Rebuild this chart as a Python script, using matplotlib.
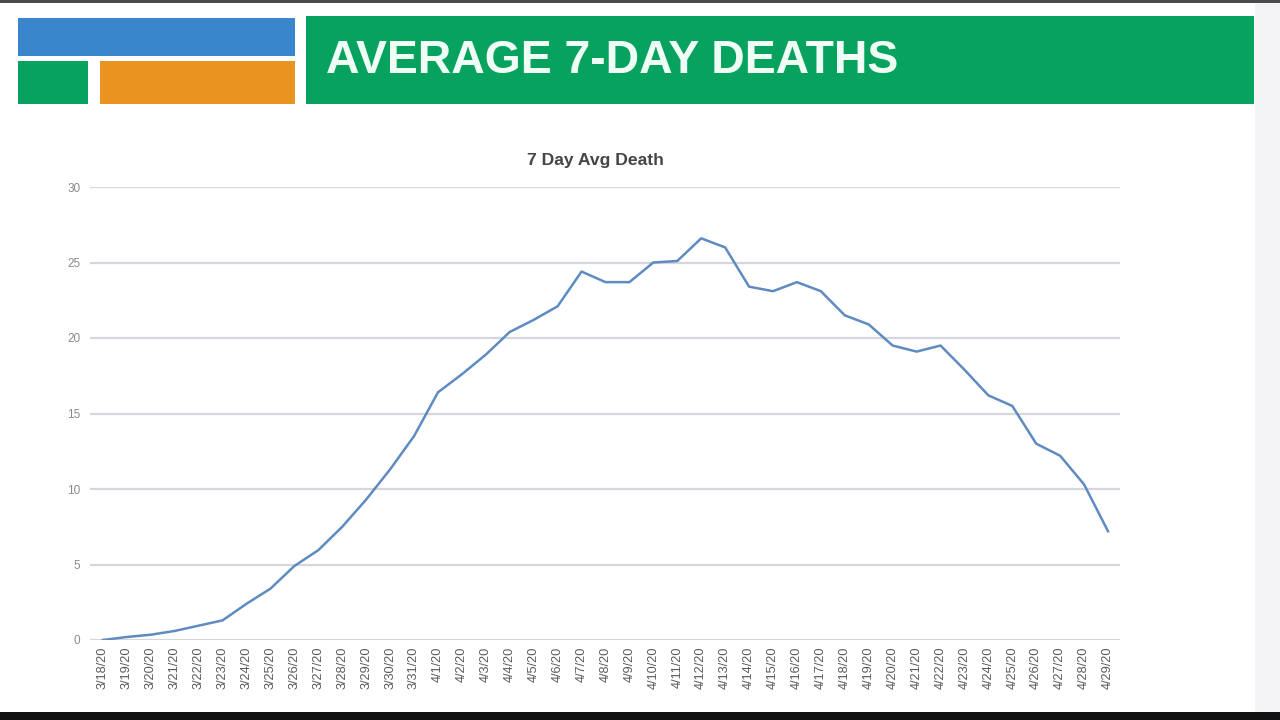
import matplotlib
matplotlib.use("Agg")
from matplotlib import pyplot as plt
from matplotlib.patches import Rectangle

# dates 3/18/20 .. 4/29/20
dates = ["3/%d/20" % d for d in range(18, 32)] + ["4/%d/20" % d for d in range(1, 30)]
avg_deaths = [0.0, 0.2, 0.35, 0.6, 0.95, 1.3, 2.4, 3.4, 4.9, 5.95,
              7.5, 9.3, 11.3, 13.5, 16.4, 17.6, 18.9, 20.4, 21.2, 22.1,
              24.4, 23.7, 23.7, 25.0, 25.1, 26.6, 26.0, 23.4, 23.1, 23.7,
              23.1, 21.5, 20.9, 19.5, 19.1, 19.5, 17.9, 16.2, 15.5, 13.0,
              12.2, 10.3, 7.2]
y_ticks = [0, 5, 10, 15, 20, 25, 30]

W, H = 1280, 720
fig = plt.figure(figsize=(12.8, 7.2), dpi=100)
fig.patch.set_facecolor("#f4f4f6")

def px_rect(x0, y0, x1, y1, color):
    # rectangle in pixel coords (origin top-left), kept under the axes
    fig.patches.append(Rectangle((x0 / W, 1 - y1 / H), (x1 - x0) / W, (y1 - y0) / H,
                                 transform=fig.transFigure, facecolor=color,
                                 edgecolor="none", zorder=-5))

# slide body and frame
px_rect(0, 3, 1255, 712, "white")
px_rect(0, 0, 1280, 3, "#4a4a4a")
px_rect(0, 712, 1280, 720, "#111111")

# header blocks
px_rect(18, 18, 295, 56, "#3a86cc")
px_rect(18, 61, 88, 104, "#07a35e")
px_rect(100, 61, 295, 104, "#e8941f")
px_rect(306, 16, 1254, 104, "#07a35e")
fig.text(326 / W, 1 - 61 / H, "AVERAGE 7-DAY DEATHS", color="#effff6",
         fontsize=33.4, fontweight="bold", family="Liberation Sans",
         ha="left", va="center")

# chart
ax = fig.add_axes([90 / W, 80 / H, 1030 / W, 453 / H])
ax.set_facecolor("none")
ax.set_zorder(2)
x = list(range(len(dates)))
ax.plot(x, avg_deaths, color="#5f8bc2", lw=1.8, zorder=3)
ax.set_xlim(-0.54, len(dates) - 0.5)
ax.set_ylim(0, 30)
ax.set_yticks(y_ticks)
ax.set_xticks(x)
ax.set_xticklabels(dates, rotation=90, fontsize=9.2, color="#5a5a5a",
                   family="Liberation Sans")
ax.set_yticklabels([str(v) for v in y_ticks], fontsize=8.5, color="#8a8a8a",
                   family="Liberation Sans")
ax.tick_params(axis="both", length=0)
ax.tick_params(axis="y", pad=7)
ax.tick_params(axis="x", pad=5)
ax.grid(axis="y", color="#d6d6dc", lw=1.6)
ax.set_axisbelow(True)
for s in ax.spines.values():
    s.set_visible(False)

fig.text(595 / W, 1 - 161 / H, "7 Day Avg Death", color="#454545",
         fontsize=12.6, fontweight="bold", family="Liberation Sans",
         ha="center", va="center")

fig.savefig("out.png", dpi=100, facecolor=fig.get_facecolor())
